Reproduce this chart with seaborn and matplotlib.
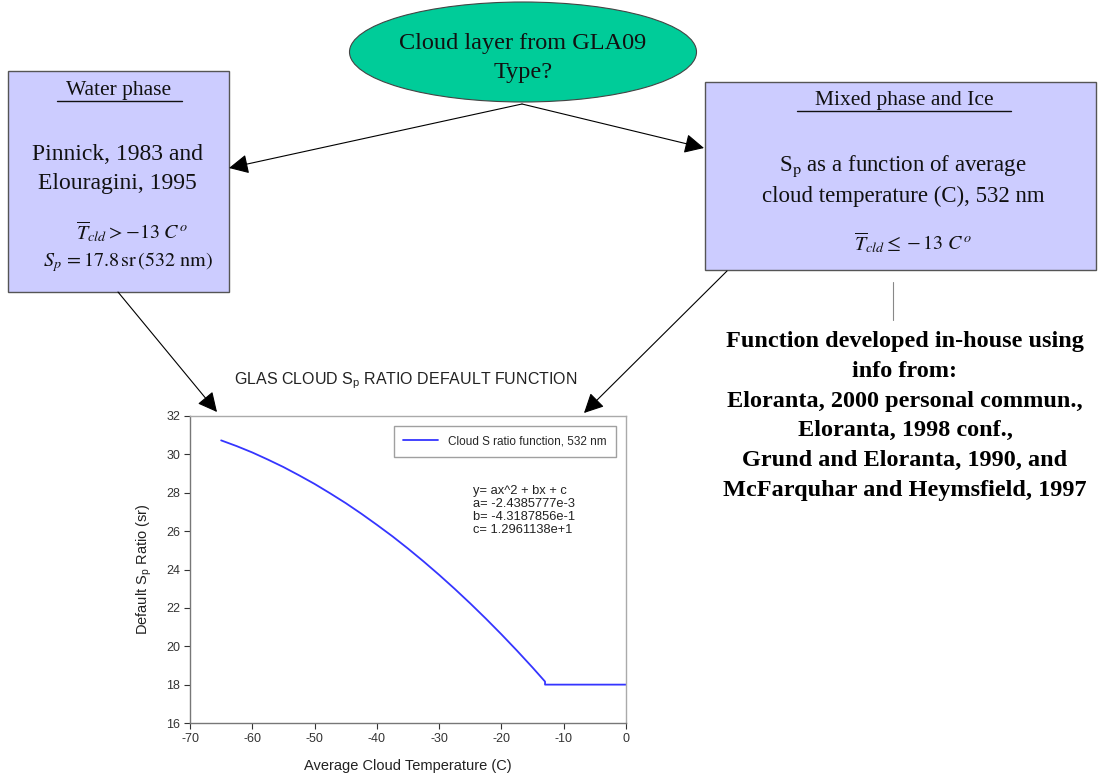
import matplotlib
matplotlib.use("Agg")
import matplotlib.pyplot as plt
import seaborn as sns
import pandas as pd
from matplotlib.patches import Ellipse, Rectangle, FancyArrowPatch

# ---- data ----
temperature = [-65, -62.5, -60, -57.5, -55, -52.5, -50, -47.5, -45, -42.5, -40, -37.5, -35,
               -32.5, -30, -27.5, -25, -22.5, -20, -17.5, -15, -13, -13, 0]
sp_ratio = [30.73, 30.43, 30.10, 29.73, 29.34, 28.91, 28.46, 27.97, 27.46, 26.91, 26.33, 25.73,
            25.09, 24.42, 23.72, 22.99, 22.23, 21.44, 20.62, 19.77, 18.89, 18.16, 18.0, 18.0]
series_label = "Cloud S ratio function, 532 nm"
x_ticks = [-70, -60, -50, -40, -30, -20, -10, 0]
y_ticks = [16, 18, 20, 22, 24, 26, 28, 30, 32]
equation_lines = ["y= ax^2 + bx + c", "a= -2.4385777e-3", "b= -4.3187856e-1", "c= 1.2961138e+1"]
references = ["Function developed in-house using", "info from:",
              "Eloranta, 2000 personal commun.,", "Eloranta, 1998 conf.,",
              "Grund and Eloranta, 1990, and", "McFarquhar and Heymsfield, 1997"]

sns.set_theme(style="white")
plt.rcParams["font.family"] = ["Liberation Sans", "DejaVu Sans"]
plt.rcParams["mathtext.fontset"] = "custom"
plt.rcParams["mathtext.rm"] = "Liberation Sans"
plt.rcParams["mathtext.it"] = "Liberation Sans:italic"
plt.rcParams["axes.unicode_minus"] = False

W, H = 1099, 775
fig = plt.figure(figsize=(W / 100, H / 100), dpi=100)
fig.patch.set_facecolor("white")

# ---- diagram layer in pixel coordinates ----
ax0 = fig.add_axes([0, 0, 1, 1])
ax0.set_xlim(0, W)
ax0.set_ylim(H, 0)
ax0.axis("off")

serif = ["Liberation Serif", "DejaVu Serif"]
box_fc = "#CCCCFF"
box_ec = "#555555"

ax0.add_patch(Ellipse((523, 52), 347, 100, facecolor="#00CC99", edgecolor="#444444", lw=0.8))
ax0.text(523, 58, "Cloud layer from GLA09\nType?", ha="center", va="center",
         family=serif, fontsize=17.5, linespacing=1.5, color="#111111")

ax0.add_patch(Rectangle((8, 71), 221, 221, facecolor=box_fc, edgecolor=box_ec, lw=1.0))
ax0.text(119, 90, "Water phase", ha="center", va="center", family=serif, fontsize=15.5, color="#111111")
ax0.plot([57, 182], [101, 101], color="#111111", lw=1.0)
ax0.text(117, 169, "Pinnick, 1983 and\nElouragini, 1995", ha="center", va="center",
         family=serif, fontsize=17, linespacing=1.5, color="#111111")
ax0.text(132, 232, r"$\overline{T}_{cld} > -13\ C^o$", ha="center", va="center",
         fontsize=14.5, math_fontfamily="stix", color="#111111")
ax0.text(128, 262, r"$S_p\, = 17.8\,\mathrm{sr}\,(532\ \mathrm{nm})$", ha="center", va="center",
         fontsize=14.5, math_fontfamily="stix", color="#111111")

ax0.add_patch(Rectangle((705, 82), 391, 188, facecolor=box_fc, edgecolor=box_ec, lw=1.0))
ax0.text(904, 100, "Mixed phase and Ice", ha="center", va="center", family=serif, fontsize=15.5, color="#111111")
ax0.plot([797, 1011], [111, 111], color="#111111", lw=1.0)
ax0.text(903, 180, "S$_\\mathrm{p}$ as a function of average\ncloud temperature (C), 532 nm",
         ha="center", va="center", family=serif, fontsize=16.5, linespacing=1.4,
         math_fontfamily="stix", color="#111111")
ax0.text(913, 243, r"$\overline{T}_{cld} \leq -13\ C^o$", ha="center", va="center",
         fontsize=14.5, math_fontfamily="stix", color="#111111")

ax0.plot([893, 893], [282, 320], color="#888888", lw=0.8)
ax0.text(905, 416, "\n".join(references), ha="center", va="center", family=serif,
         fontweight="bold", fontsize=17.5, linespacing=1.55, color="black")

def arrow(p0, p1):
    ax0.add_patch(FancyArrowPatch(p0, p1, arrowstyle="-|>,head_length=8,head_width=4",
                                  color="black", lw=0.8, mutation_scale=1.5,
                                  shrinkA=0, shrinkB=0))

arrow((522, 104), (229, 168))
arrow((522, 104), (704, 148))
arrow((118, 292), (217, 412))
arrow((727, 271), (584, 413))

fig.text(406 / W, 1 - 381 / H, "GLAS CLOUD S$_\\mathrm{p}$ RATIO DEFAULT FUNCTION",
         ha="center", va="center", fontsize=11.5, color="#222222")

# ---- chart ----
ax = fig.add_axes([190 / W, 52 / H, 436 / W, 307 / H])
df = pd.DataFrame({"Temperature": temperature, "Sp": sp_ratio})
sns.lineplot(data=df, x="Temperature", y="Sp", ax=ax, estimator=None, sort=False,
             color="#3535ff", lw=1.3, label=series_label)
ax.set_xlim(-70, 0)
ax.set_ylim(16, 32)
ax.set_xticks(x_ticks)
ax.set_yticks(y_ticks)
ax.tick_params(axis="both", direction="out", length=4, width=0.8, labelsize=9,
               colors="#333333", pad=3, left=True, bottom=True)
for s in ["left", "bottom"]:
    ax.spines[s].set_color("#777777")
for s in ["top", "right"]:
    ax.spines[s].set_color("#aaaaaa")
for s in ax.spines.values():
    s.set_linewidth(1.0)
ax.set_xlabel("Average Cloud Temperature (C)", fontsize=10.5, color="#222222", labelpad=10)
ax.set_ylabel("Default S$_\\mathrm{p}$ Ratio (sr)", fontsize=10.5, color="#222222", labelpad=9)
leg = ax.legend(loc="upper right", bbox_to_anchor=((616 - 190) / 436, (723 - 426) / 307),
                borderaxespad=0, fontsize=8.5, frameon=True, fancybox=False,
                edgecolor="#888888", handlelength=3, borderpad=0.8)
leg.get_frame().set_linewidth(1.0)
ax.text((473 - 190) / 436, (723 - 485) / 307, "\n".join(equation_lines), transform=ax.transAxes,
        ha="left", va="top", fontsize=9.3, linespacing=1.1, color="#222222")

fig.savefig("out.png", dpi=100, facecolor="white")
